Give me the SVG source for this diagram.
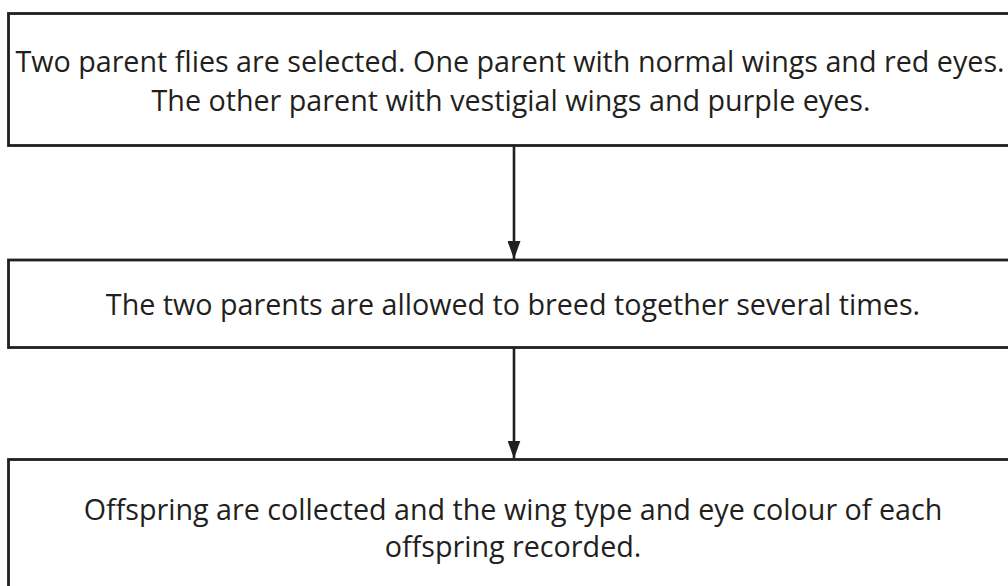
<svg xmlns="http://www.w3.org/2000/svg" width="1008" height="586" viewBox="0 0 1008 586">
<style>
.box{fill:#fff;stroke:#231f20;stroke-width:2.8}
.t{font-family:"Open Sans","Noto Sans",sans-serif;font-size:28.7px;fill:#231f20;text-anchor:middle}
.c{stroke:#231f20;stroke-width:2.6;fill:none}
</style>
<defs>
<marker id="ah" markerWidth="18" markerHeight="13" refX="18" refY="6.5" orient="auto" markerUnits="userSpaceOnUse" viewBox="0 0 18 13">
<path d="M0,0 L18,6.5 L0,13 Z" fill="#231f20"/>
</marker>
</defs>
<rect width="1008" height="586" fill="#fff"/>
<g id="node1">
<rect class="box" x="8.5" y="13.5" width="1010" height="132"/>
<text class="t" x="510" y="72">Two parent flies are selected. One parent with normal wings and red eyes.</text>
<text class="t" x="511" y="111">The other parent with vestigial wings and purple eyes.</text>
</g>
<g id="node2">
<rect class="box" x="8.5" y="260" width="1010" height="87.5"/>
<text class="t" x="513" y="315">The two parents are allowed to breed together several times.</text>
</g>
<g id="node3">
<rect class="box" x="8.5" y="459.5" width="1010" height="140"/>
<text class="t" x="513" y="520">Offspring are collected and the wing type and eye colour of each</text>
<text class="t" x="513" y="557">offspring recorded.</text>
</g>
<g id="connectors">
<line class="c" x1="514" y1="145.5" x2="514" y2="259" marker-end="url(#ah)"/>
<line class="c" x1="514" y1="347.5" x2="514" y2="458.5" marker-end="url(#ah)"/>
</g>
</svg>
